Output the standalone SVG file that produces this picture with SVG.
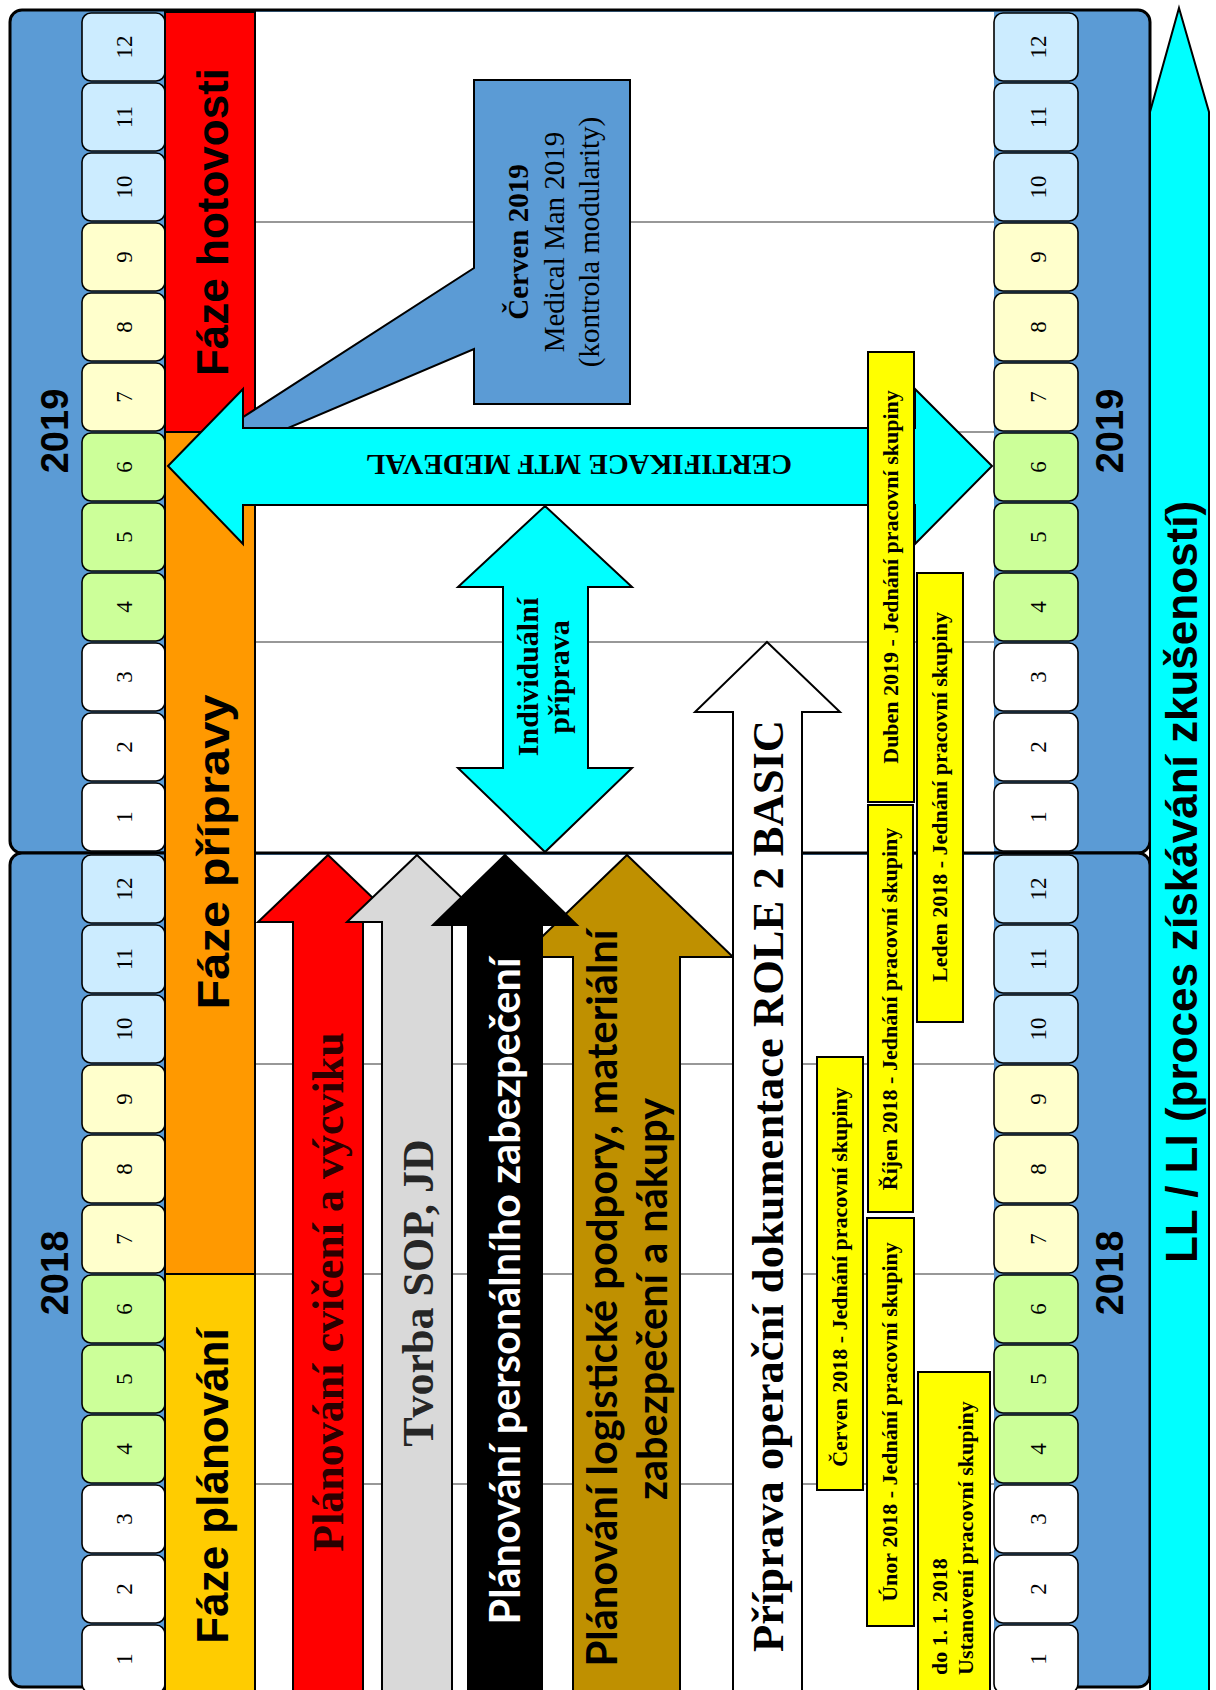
<svg xmlns="http://www.w3.org/2000/svg" width="1216" height="1690" viewBox="0 0 1216 1690">
  <style>
    .panel { fill: #5B9BD5; stroke: #000; stroke-width: 3; }
    .field { fill: #FFFFFF; }
    .qline { stroke: #333333; stroke-width: 1.2; }
    .cell { stroke: #000; stroke-width: 1.6; }
    .q4 { fill: #CCECFF; }
    .q3 { fill: #FFFFCC; }
    .q2 { fill: #CCFF99; }
    .q1 { fill: #FFFFFF; }
    .num { font-family: "Liberation Serif", "Times New Roman", serif; font-size: 23px; fill: #000; text-anchor: middle; }
    .year { font-family: "Liberation Sans", Arial, sans-serif; font-weight: bold; font-size: 38px; fill: #000; text-anchor: middle; }
    .phase { stroke: #000; stroke-width: 2; }
    .phasetxt { font-family: "Liberation Sans", Arial, sans-serif; font-weight: bold; font-size: 44px; fill: #000; text-anchor: middle; }
    .shape { stroke: #000; stroke-width: 2; stroke-linejoin: miter; }
    .serifb { font-family: "Liberation Serif", "Times New Roman", serif; font-weight: bold; text-anchor: middle; }
    .serifr { font-family: "Liberation Serif", "Times New Roman", serif; text-anchor: middle; }
    .hum { font-family: Lato, "Open Sans", sans-serif; font-weight: bold; font-size: 42px; text-anchor: middle; }
    .note { fill: #FFFF00; stroke: #000; stroke-width: 2; }
    .notetxt { font-family: "Liberation Serif", "Times New Roman", serif; font-weight: bold; font-size: 22px; fill: #000; text-anchor: middle; }
    .notetxt.start { text-anchor: start; }
  </style>

  <!-- year panels -->
  <g id="panel-2019">
    <rect class="panel" x="10" y="10" width="1140" height="843" rx="12"/>
    <rect class="field" x="165" y="12" width="829" height="840"/>
  </g>
  <g id="panel-2018">
    <rect class="panel" x="10" y="853" width="1140" height="834" rx="12"/>
    <rect class="field" x="165" y="855" width="829" height="835"/>
  </g>

  <!-- quarter separators -->
  <g id="grid">
    <line class="qline" x1="255" y1="222" x2="994" y2="222"/>
    <line class="qline" x1="255" y1="432" x2="994" y2="432"/>
    <line class="qline" x1="255" y1="642" x2="994" y2="642"/>
    <line class="qline" x1="255" y1="1064" x2="994" y2="1064"/>
    <line class="qline" x1="255" y1="1274" x2="994" y2="1274"/>
    <line class="qline" x1="255" y1="1484" x2="994" y2="1484"/>
  </g>

  <!-- month cells, left column -->
  <g id="months-left">
    <rect class="cell q4" x="82" y="13" width="83" height="68" rx="9"/>
    <rect class="cell q4" x="82" y="83" width="83" height="68" rx="9"/>
    <rect class="cell q4" x="82" y="153" width="83" height="68" rx="9"/>
    <rect class="cell q3" x="82" y="223" width="83" height="68" rx="9"/>
    <rect class="cell q3" x="82" y="293" width="83" height="68" rx="9"/>
    <rect class="cell q3" x="82" y="363" width="83" height="68" rx="9"/>
    <rect class="cell q2" x="82" y="433" width="83" height="68" rx="9"/>
    <rect class="cell q2" x="82" y="503" width="83" height="68" rx="9"/>
    <rect class="cell q2" x="82" y="573" width="83" height="68" rx="9"/>
    <rect class="cell q1" x="82" y="643" width="83" height="68" rx="9"/>
    <rect class="cell q1" x="82" y="713" width="83" height="68" rx="9"/>
    <rect class="cell q1" x="82" y="783" width="83" height="68" rx="9"/>
    <rect class="cell q4" x="82" y="855" width="83" height="68" rx="9"/>
    <rect class="cell q4" x="82" y="925" width="83" height="68" rx="9"/>
    <rect class="cell q4" x="82" y="995" width="83" height="68" rx="9"/>
    <rect class="cell q3" x="82" y="1065" width="83" height="68" rx="9"/>
    <rect class="cell q3" x="82" y="1135" width="83" height="68" rx="9"/>
    <rect class="cell q3" x="82" y="1205" width="83" height="68" rx="9"/>
    <rect class="cell q2" x="82" y="1275" width="83" height="68" rx="9"/>
    <rect class="cell q2" x="82" y="1345" width="83" height="68" rx="9"/>
    <rect class="cell q2" x="82" y="1415" width="83" height="68" rx="9"/>
    <rect class="cell q1" x="82" y="1485" width="83" height="68" rx="9"/>
    <rect class="cell q1" x="82" y="1555" width="83" height="68" rx="9"/>
    <rect class="cell q1" x="82" y="1625" width="83" height="68" rx="9"/>
    <text class="num" transform="translate(132,47) rotate(-90)">12</text>
    <text class="num" transform="translate(132,117) rotate(-90)">11</text>
    <text class="num" transform="translate(132,187) rotate(-90)">10</text>
    <text class="num" transform="translate(132,257) rotate(-90)">9</text>
    <text class="num" transform="translate(132,327) rotate(-90)">8</text>
    <text class="num" transform="translate(132,397) rotate(-90)">7</text>
    <text class="num" transform="translate(132,467) rotate(-90)">6</text>
    <text class="num" transform="translate(132,537) rotate(-90)">5</text>
    <text class="num" transform="translate(132,607) rotate(-90)">4</text>
    <text class="num" transform="translate(132,677) rotate(-90)">3</text>
    <text class="num" transform="translate(132,747) rotate(-90)">2</text>
    <text class="num" transform="translate(132,817) rotate(-90)">1</text>
    <text class="num" transform="translate(132,889) rotate(-90)">12</text>
    <text class="num" transform="translate(132,959) rotate(-90)">11</text>
    <text class="num" transform="translate(132,1029) rotate(-90)">10</text>
    <text class="num" transform="translate(132,1099) rotate(-90)">9</text>
    <text class="num" transform="translate(132,1169) rotate(-90)">8</text>
    <text class="num" transform="translate(132,1239) rotate(-90)">7</text>
    <text class="num" transform="translate(132,1309) rotate(-90)">6</text>
    <text class="num" transform="translate(132,1379) rotate(-90)">5</text>
    <text class="num" transform="translate(132,1449) rotate(-90)">4</text>
    <text class="num" transform="translate(132,1519) rotate(-90)">3</text>
    <text class="num" transform="translate(132,1589) rotate(-90)">2</text>
    <text class="num" transform="translate(132,1659) rotate(-90)">1</text>
  </g>

  <!-- month cells, right column -->
  <g id="months-right">
    <rect class="cell q4" x="994" y="13" width="84" height="68" rx="9"/>
    <rect class="cell q4" x="994" y="83" width="84" height="68" rx="9"/>
    <rect class="cell q4" x="994" y="153" width="84" height="68" rx="9"/>
    <rect class="cell q3" x="994" y="223" width="84" height="68" rx="9"/>
    <rect class="cell q3" x="994" y="293" width="84" height="68" rx="9"/>
    <rect class="cell q3" x="994" y="363" width="84" height="68" rx="9"/>
    <rect class="cell q2" x="994" y="433" width="84" height="68" rx="9"/>
    <rect class="cell q2" x="994" y="503" width="84" height="68" rx="9"/>
    <rect class="cell q2" x="994" y="573" width="84" height="68" rx="9"/>
    <rect class="cell q1" x="994" y="643" width="84" height="68" rx="9"/>
    <rect class="cell q1" x="994" y="713" width="84" height="68" rx="9"/>
    <rect class="cell q1" x="994" y="783" width="84" height="68" rx="9"/>
    <rect class="cell q4" x="994" y="855" width="84" height="68" rx="9"/>
    <rect class="cell q4" x="994" y="925" width="84" height="68" rx="9"/>
    <rect class="cell q4" x="994" y="995" width="84" height="68" rx="9"/>
    <rect class="cell q3" x="994" y="1065" width="84" height="68" rx="9"/>
    <rect class="cell q3" x="994" y="1135" width="84" height="68" rx="9"/>
    <rect class="cell q3" x="994" y="1205" width="84" height="68" rx="9"/>
    <rect class="cell q2" x="994" y="1275" width="84" height="68" rx="9"/>
    <rect class="cell q2" x="994" y="1345" width="84" height="68" rx="9"/>
    <rect class="cell q2" x="994" y="1415" width="84" height="68" rx="9"/>
    <rect class="cell q1" x="994" y="1485" width="84" height="68" rx="9"/>
    <rect class="cell q1" x="994" y="1555" width="84" height="68" rx="9"/>
    <rect class="cell q1" x="994" y="1625" width="84" height="68" rx="9"/>
    <text class="num" transform="translate(1046,47) rotate(-90)">12</text>
    <text class="num" transform="translate(1046,117) rotate(-90)">11</text>
    <text class="num" transform="translate(1046,187) rotate(-90)">10</text>
    <text class="num" transform="translate(1046,257) rotate(-90)">9</text>
    <text class="num" transform="translate(1046,327) rotate(-90)">8</text>
    <text class="num" transform="translate(1046,397) rotate(-90)">7</text>
    <text class="num" transform="translate(1046,467) rotate(-90)">6</text>
    <text class="num" transform="translate(1046,537) rotate(-90)">5</text>
    <text class="num" transform="translate(1046,607) rotate(-90)">4</text>
    <text class="num" transform="translate(1046,677) rotate(-90)">3</text>
    <text class="num" transform="translate(1046,747) rotate(-90)">2</text>
    <text class="num" transform="translate(1046,817) rotate(-90)">1</text>
    <text class="num" transform="translate(1046,889) rotate(-90)">12</text>
    <text class="num" transform="translate(1046,959) rotate(-90)">11</text>
    <text class="num" transform="translate(1046,1029) rotate(-90)">10</text>
    <text class="num" transform="translate(1046,1099) rotate(-90)">9</text>
    <text class="num" transform="translate(1046,1169) rotate(-90)">8</text>
    <text class="num" transform="translate(1046,1239) rotate(-90)">7</text>
    <text class="num" transform="translate(1046,1309) rotate(-90)">6</text>
    <text class="num" transform="translate(1046,1379) rotate(-90)">5</text>
    <text class="num" transform="translate(1046,1449) rotate(-90)">4</text>
    <text class="num" transform="translate(1046,1519) rotate(-90)">3</text>
    <text class="num" transform="translate(1046,1589) rotate(-90)">2</text>
    <text class="num" transform="translate(1046,1659) rotate(-90)">1</text>
  </g>

  <!-- year captions -->
  <g id="years">
    <text class="year" transform="translate(68,431) rotate(-90)">2019</text>
    <text class="year" transform="translate(68,1273) rotate(-90)">2018</text>
    <text class="year" transform="translate(1123,431) rotate(-90)">2019</text>
    <text class="year" transform="translate(1123,1273) rotate(-90)">2018</text>
  </g>

  <!-- phases -->
  <g id="phase-hotovost">
    <rect class="phase" x="165" y="12" width="90" height="420" fill="#FF0000"/>
    <text class="phasetxt" transform="translate(228,222) rotate(-90)">Fáze hotovosti</text>
  </g>
  <g id="phase-priprava">
    <rect class="phase" x="165" y="432" width="90" height="842" fill="#FF9900"/>
    <text class="phasetxt" transform="translate(229,852) rotate(-90)" font-size="46" textLength="315" lengthAdjust="spacingAndGlyphs">Fáze přípravy</text>
  </g>
  <g id="phase-planovani">
    <rect class="phase" x="165" y="1274" width="90" height="420" fill="#FFCC00"/>
    <text class="phasetxt" transform="translate(228,1486) rotate(-90)">Fáze plánování</text>
  </g>

  <!-- planning streams (upward arrows) -->
  <g id="stream-cviceni">
    <polygon class="shape" fill="#FF0000" points="328,855 398,922 363,922 363,1700 293,1700 293,922 258,922"/>
    <text class="serifb" font-size="44" fill="#2a0000" transform="translate(343,1292) rotate(-90)">Plánování cvičení a výcviku</text>
  </g>
  <g id="stream-sop">
    <polygon class="shape" fill="#D9D9D9" points="417,855 487,922 452,922 452,1700 382,1700 382,922 347,922"/>
    <text class="serifb" font-size="44" fill="#262626" transform="translate(433,1293) rotate(-90)">Tvorba SOP, JD</text>
  </g>
  <g id="stream-logistika">
    <polygon class="shape" fill="#BF9000" points="627,855 733,957 680,957 680,1700 573,1700 573,957 521,957"/>
    <text class="hum" fill="#000" transform="translate(617,1298) rotate(-90)" textLength="737" lengthAdjust="spacingAndGlyphs">Plánování logistické podpory, materiální</text>
    <text class="hum" fill="#000" transform="translate(667,1299) rotate(-90)" textLength="402" lengthAdjust="spacingAndGlyphs">zabezpečení a nákupy</text>
  </g>
  <g id="stream-personal">
    <polygon class="shape" fill="#000000" points="505,855 577,925 542,925 542,1700 468,1700 468,925 433,925"/>
    <text class="hum" fill="#FFFFFF" transform="translate(520,1291) rotate(-90)" textLength="667" lengthAdjust="spacingAndGlyphs">Plánování personálního zabezpečení</text>
  </g>
  <g id="stream-role2">
    <polygon class="shape" fill="#FFFFFF" points="767,642 840,712 802,712 802,1700 733,1700 733,712 695,712"/>
    <text class="serifb" font-size="44.5" fill="#000" transform="translate(783,1186) rotate(-90)" textLength="932" lengthAdjust="spacingAndGlyphs">Příprava operační dokumentace ROLE 2 BASIC</text>
  </g>

  <!-- callout -->
  <g id="callout-medical-man">
    <path class="shape" fill="#5B9BD5" d="M474,80 H630 V404 H474 V349 L260,440 L220,432 L474,268 Z"/>
    <text class="serifb" font-size="29" fill="#000" transform="translate(528,242) rotate(-90)">Červen 2019</text>
    <text class="serifr" font-size="29" fill="#000" transform="translate(564,242) rotate(-90)">Medical Man 2019</text>
    <text class="serifr" font-size="29" fill="#000" transform="translate(599,242) rotate(-90)">(kontrola modularity)</text>
  </g>

  <!-- certification span -->
  <g id="certifikace">
    <polygon class="shape" fill="#00FFFF" points="168,466 243,389 243,428 915,428 915,389 992,466 915,544 915,505 243,505 243,544"/>
    <text class="serifb" font-size="29" fill="#000" transform="translate(579,455) rotate(180)">CERTIFIKACE MTF MEDEVAL</text>
  </g>

  <!-- individual preparation span -->
  <g id="individualni-priprava">
    <polygon class="shape" fill="#00FFFF" points="545,506 632,587 588,587 588,768 632,768 545,852 458,768 503,768 503,587 458,587"/>
    <text class="serifb" font-size="30" fill="#000" transform="translate(538,677) rotate(-90)">Individuální</text>
    <text class="serifb" font-size="30" fill="#000" transform="translate(569,677) rotate(-90)">příprava</text>
  </g>

  <!-- working group meetings -->
  <g id="wg-duben-2019">
    <rect class="note" x="868" y="352" width="46" height="450"/>
    <text class="notetxt" transform="translate(898,577) rotate(-90)">Duben 2019 - Jednání pracovní skupiny</text>
  </g>
  <g id="wg-leden-2018">
    <rect class="note" x="917" y="573" width="46" height="449"/>
    <text class="notetxt" transform="translate(947,797) rotate(-90)">Leden 2018 - Jednání pracovní skupiny</text>
  </g>
  <g id="wg-rijen-2018">
    <rect class="note" x="868" y="805" width="45" height="407"/>
    <text class="notetxt" transform="translate(897,1009) rotate(-90)">Říjen 2018 - Jednání pracovní skupiny</text>
  </g>
  <g id="wg-cerven-2018">
    <rect class="note" x="817" y="1057" width="46" height="433"/>
    <text class="notetxt" transform="translate(847,1277) rotate(-90)">Červen 2018 - Jednání pracovní skupiny</text>
  </g>
  <g id="wg-unor-2018">
    <rect class="note" x="867" y="1218" width="47" height="408"/>
    <text class="notetxt" transform="translate(897,1422) rotate(-90)">Únor 2018 - Jednání pracovní skupiny</text>
  </g>
  <g id="wg-ustanoveni">
    <rect class="note" x="918" y="1372" width="72" height="330"/>
    <text class="notetxt start" transform="translate(947,1675) rotate(-90)">do 1. 1. 2018</text>
    <text class="notetxt start" transform="translate(973,1675) rotate(-90)">Ustanovení pracovní skupiny</text>
  </g>

  <!-- lessons learned stream -->
  <g id="ll-li">
    <polygon class="shape" fill="#00FFFF" points="1179,8 1209,112 1209,1700 1150,1700 1150,112"/>
    <text class="phasetxt" transform="translate(1197,882) rotate(-90)">LL / LI (proces získávání zkušeností)</text>
  </g>
</svg>
